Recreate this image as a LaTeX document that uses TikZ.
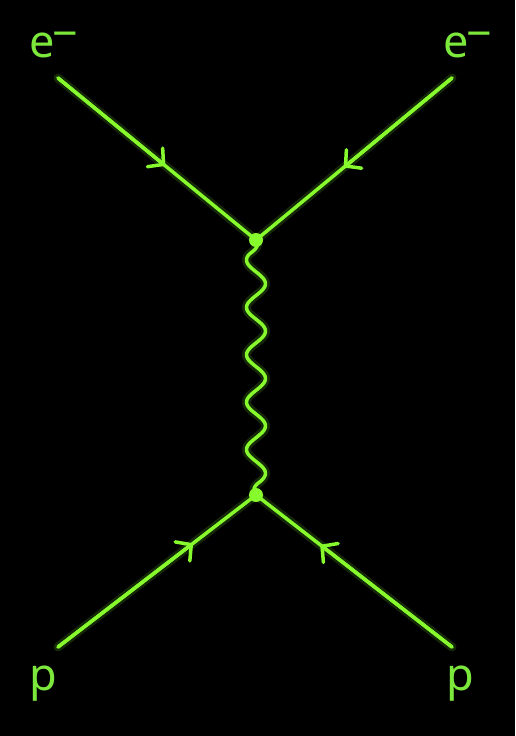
\documentclass[tikz,border=0pt]{standalone}
\usepackage{fontspec}
\setmainfont{Noto Sans}
\usetikzlibrary{arrows.meta,calc}
\definecolor{fline}{RGB}{135,250,45}
\definecolor{ftext}{RGB}{125,232,60}
\tikzset{
  declare function={wenv(\s)=min(1,\s/14,(255-\s)/14); wavex(\s)=256-9.5*wenv(\s)*cos(7.594937*(\s-20));},
  glowline/.style={draw=fline, line width=9pt, opacity=0.16, line cap=round},
  fermion/.style={draw=fline, line width=3.5pt, line cap=round},
  arrowed/.style={fermion, -{Straight Barb[length=11pt,width=24pt,line cap=round,line join=round]}},
  vtx/.style={circle, fill=fline, inner sep=0pt, minimum size=14pt},
  lbl/.style={text=ftext, font=\fontsize{45}{45}\selectfont, inner sep=0pt, anchor=base west}
}
\newcommand{\elabel}{e\hspace{-2pt}\raisebox{8pt}{−}}
\begin{document}
\begin{tikzpicture}[x=1pt,y=-1pt]
\fill[black] (0,0) rectangle (515,736);
\useasboundingbox (0,0) rectangle (515,736);
\coordinate (a) at (58,78);
\coordinate (b) at (452,78);
\coordinate (c) at (58,647);
\coordinate (d) at (452,647);
\coordinate (v1) at (256,240);
\coordinate (v2) at (256,495);
\coordinate (ta) at ($(a)!0.54!(v1)$);
\coordinate (tb) at ($(b)!0.55!(v1)$);
\coordinate (tc) at ($(c)!0.68!(v2)$);
\coordinate (td) at ($(d)!0.67!(v2)$);
% glow
\draw[glowline] (a) -- (v1) -- (b);
\draw[glowline] (c) -- (v2) -- (d);
\draw[glowline] plot[variable=\s, domain=0:255, samples=150, smooth] ({wavex(\s)}, {240+\s});
% lines
\draw[fermion] (a) -- (v1);
\draw[fermion] (b) -- (v1);
\draw[fermion] (c) -- (v2);
\draw[fermion] (d) -- (v2);
\draw[arrowed] (a) -- (ta);
\draw[arrowed] (b) -- (tb);
\draw[arrowed] (c) -- (tc);
\draw[arrowed] (d) -- (td);
\draw[fermion, line join=round] plot[variable=\s, domain=0:255, samples=150, smooth] ({wavex(\s)}, {240+\s});
\node[vtx] (n1) at (v1) {};
\node[vtx] (n2) at (v2) {};
% labels
\node[lbl] (e1) at (29,57) {\elabel};
\node[lbl] (e2) at (443,57) {\elabel};
\node[lbl] (p1) at (29,690) {p};
\node[lbl] (p2) at (446,690) {p};
\end{tikzpicture}
\end{document}
